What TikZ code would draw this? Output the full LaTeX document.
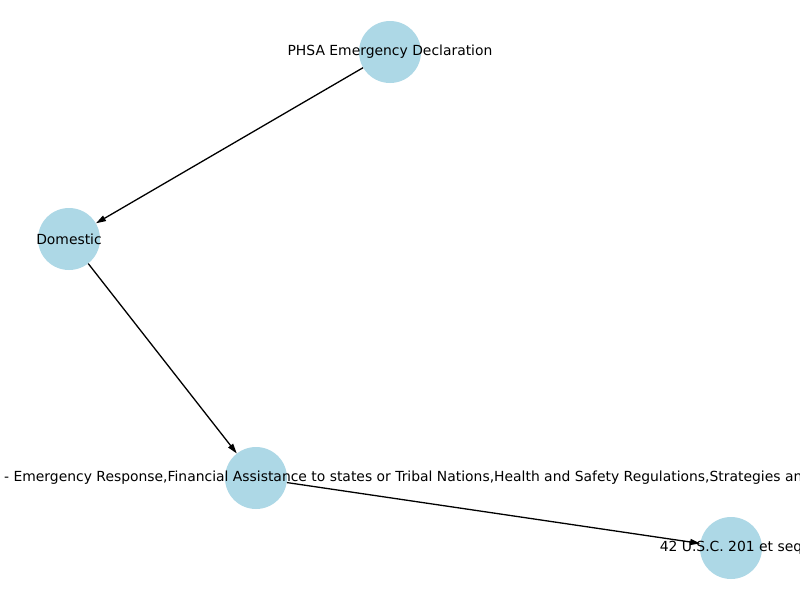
\documentclass[tikz,border=0pt]{standalone}
\usepackage{fontspec}
\setmainfont{DejaVu Sans}
\usetikzlibrary{arrows.meta}
\definecolor{nodeblue}{HTML}{ADD8E6}
\tikzset{
  nd/.style={circle, fill=nodeblue, draw=none, minimum size=62pt, inner sep=0pt},
  lbl/.style={font=\fontsize{13.9}{16}\selectfont, text=black, inner sep=0pt},
  edge/.style={draw=black, line width=1.3pt, -{Triangle[length=10pt,width=6pt]}}
}
\begin{document}
\begin{tikzpicture}[x=1pt,y=-1pt]
\useasboundingbox (0,0) rectangle (800,600);
\clip (0,0) rectangle (800,600);
\fill[white] (0,0) rectangle (800,600);
\node[nd] (phsa) at (390,52) {};
\node[nd] (dom) at (69,239) {};
\node[nd] (mid) at (256,478) {};
\node[nd] (usc) at (731,548) {};
\draw[edge] (phsa) -- (dom);
\draw[edge] (dom) -- (mid);
\draw[edge] (mid) -- (usc);
\node[lbl] (tphsa) at (390,52) {PHSA Emergency Declaration};
\node[lbl] (tdom) at (69,239) {Domestic};
\node[lbl, anchor=west] (tmid) at (4,478) {- Emergency Response,Financial Assistance to states or Tribal Nations,Health and Safety Regulations,Strategies and};
\node[lbl] (tusc) at (731,548) {42 U.S.C. 201 et seq};
\end{tikzpicture}
\end{document}
